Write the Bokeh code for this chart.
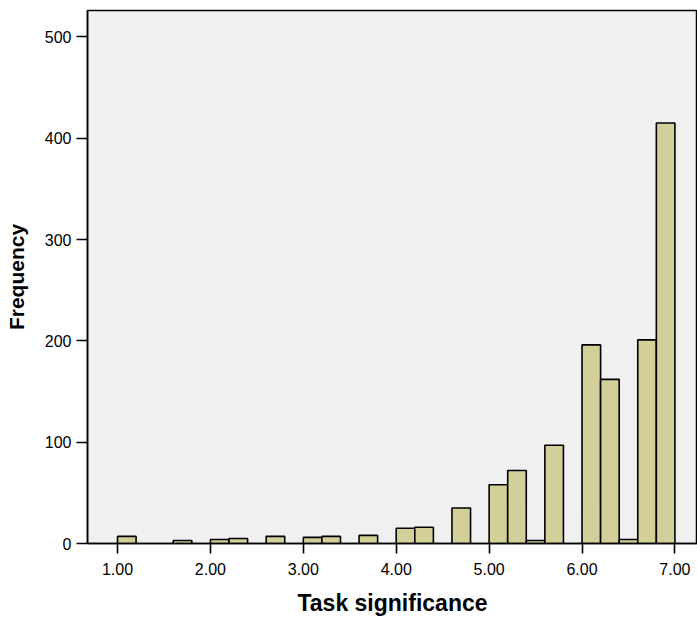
from bokeh.plotting import figure
from bokeh.models import FixedTicker, Range1d, CustomJSTickFormatter
from bokeh.embed import file_html
from bokeh.resources import INLINE

# Histogram bins (left edges, width 0.2) and frequencies
bin_left = [1.0, 1.6, 2.0, 2.2, 2.6, 3.0, 3.2, 3.6, 4.0, 4.2, 4.6,
            5.0, 5.2, 5.4, 5.6, 6.0, 6.2, 6.4, 6.6, 6.8]
bin_width = 0.2
counts = [7, 3, 4, 5, 7, 6, 7, 8, 15, 16, 35,
          58, 72, 3, 97, 196, 162, 4, 201, 415]
x_ticks = [1, 2, 3, 4, 5, 6, 7]
y_ticks = [0, 100, 200, 300, 400, 500]

p = figure(width=697, height=622, output_backend="svg", toolbar_location=None,
           x_range=Range1d(0.677, 7.243), y_range=Range1d(0, 526),
           min_border_left=87, min_border_right=0, min_border_top=10, min_border_bottom=79)

bin_right = [b + bin_width for b in bin_left]
p.quad(left=bin_left, right=bin_right, bottom=0, top=counts,
       fill_color="#D3CF98", line_color="black", line_width=1.6)

p.background_fill_color = "#F0F0F0"
p.border_fill_color = "white"
p.outline_line_color = "black"
p.outline_line_width = 1.5
p.grid.visible = False

p.xaxis.ticker = FixedTicker(ticks=x_ticks)
p.yaxis.ticker = FixedTicker(ticks=y_ticks)
p.xaxis.formatter = CustomJSTickFormatter(code="return tick.toFixed(2);")

for ax in (p.xaxis, p.yaxis):
    ax.axis_line_color = "black"
    ax.axis_line_width = 1.6
    ax.major_tick_line_color = "black"
    ax.major_tick_line_width = 1.6
    ax.major_tick_in = 0
    ax.minor_tick_line_color = None
    ax.major_label_text_font = "Liberation Sans"
    ax.major_label_text_font_size = "16px"
    ax.major_label_text_color = "black"
    ax.axis_label_text_font = "Liberation Sans"
    ax.axis_label_text_font_style = "bold"
    ax.axis_label_text_color = "black"

p.xaxis.axis_label_text_font_size = "23px"
p.yaxis.axis_label_text_font_size = "21px"
p.xaxis.major_tick_out = 10
p.yaxis.major_tick_out = 11
p.xaxis.major_label_standoff = 9
p.yaxis.major_label_standoff = 5
p.xaxis.axis_label = "Task significance"
p.yaxis.axis_label = "Frequency"
p.xaxis.axis_label_standoff = 12
p.yaxis.axis_label_standoff = 14

open("out.html", "w").write(file_html(p, INLINE))
